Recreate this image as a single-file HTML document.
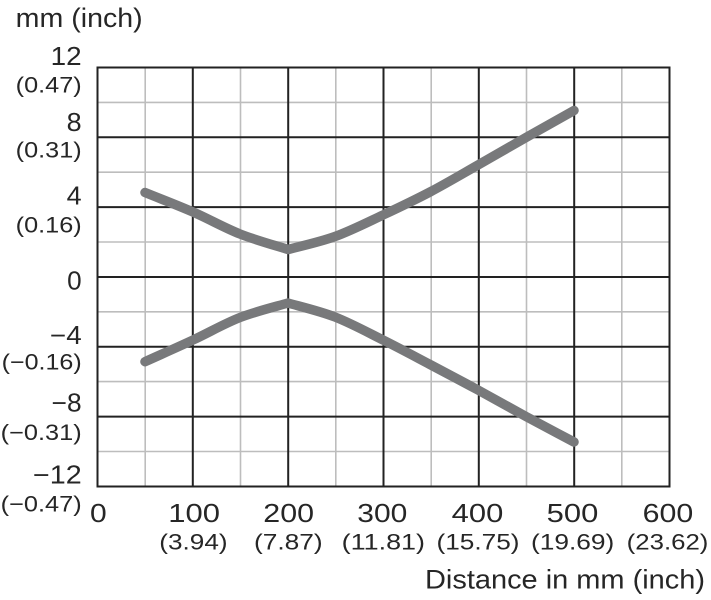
<!DOCTYPE html>
<html><head><meta charset="utf-8"><style>
html,body{margin:0;padding:0;background:#fff;}
svg{display:block;}
text{font-family:"Liberation Sans",Arial,sans-serif;fill:#262626;}
</style></head><body>
<svg width="711" height="600" viewBox="0 0 711 600" xmlns="http://www.w3.org/2000/svg">
<rect width="711" height="600" fill="#fff"/>
<!-- light grid -->
<g stroke="#bdbdbd" stroke-width="1.6">
<line x1="145.2" y1="67.5" x2="145.2" y2="486.5"/>
<line x1="240.5" y1="67.5" x2="240.5" y2="486.5"/>
<line x1="335.8" y1="67.5" x2="335.8" y2="486.5"/>
<line x1="431.2" y1="67.5" x2="431.2" y2="486.5"/>
<line x1="526.5" y1="67.5" x2="526.5" y2="486.5"/>
<line x1="621.8" y1="67.5" x2="621.8" y2="486.5"/>
<line x1="97.5" y1="102.4" x2="669.5" y2="102.4"/>
<line x1="97.5" y1="172.2" x2="669.5" y2="172.2"/>
<line x1="97.5" y1="242" x2="669.5" y2="242"/>
<line x1="97.5" y1="311.8" x2="669.5" y2="311.8"/>
<line x1="97.5" y1="381.6" x2="669.5" y2="381.6"/>
<line x1="97.5" y1="451.5" x2="669.5" y2="451.5"/>
</g>
<!-- dark grid -->
<g stroke="#222" stroke-width="2">
<line x1="192.8" y1="67.5" x2="192.8" y2="486.5"/>
<line x1="288.2" y1="67.5" x2="288.2" y2="486.5"/>
<line x1="383.5" y1="67.5" x2="383.5" y2="486.5"/>
<line x1="478.8" y1="67.5" x2="478.8" y2="486.5"/>
<line x1="574.2" y1="67.5" x2="574.2" y2="486.5"/>
<line x1="97.5" y1="137.3" x2="669.5" y2="137.3"/>
<line x1="97.5" y1="207.1" x2="669.5" y2="207.1"/>
<line x1="97.5" y1="277" x2="669.5" y2="277"/>
<line x1="97.5" y1="346.8" x2="669.5" y2="346.8"/>
<line x1="97.5" y1="416.6" x2="669.5" y2="416.6"/>
<rect x="97.5" y="67.5" width="572" height="419" fill="none"/>
</g>
<!-- curves -->
<g fill="none" stroke="#78797b" stroke-width="9.5" stroke-linecap="round" stroke-linejoin="round">
<path d="M145,192.5 C161,199 177.17,205.08 193,212 C208.83,218.92 224.17,227.75 240,234 C255.83,240.25 278.4,246.4 288,249.5 C297.4,246.9 319.17,242.25 335,236.5 C350.83,230.75 367.17,222.42 383,215 C398.83,207.58 414.17,200.33 430,192 C445.83,183.67 462,174.08 478,165 C494,155.92 510,146.58 526,137.5 C542,128.42 558,119.5 574,110.5"/>
<path d="M145,361.7 C161,354.47 177.17,347.37 193,340 C208.83,332.63 224.17,323.67 240,317.5 C255.83,311.33 278.4,305.9 288,303 C297.4,305.8 319.17,310.83 335,317 C350.83,323.17 367.17,332.08 383,340 C398.83,347.92 414.17,356.17 430,364.5 C445.83,372.83 462,381.33 478,390 C494,398.67 510,407.83 526,416.5 C542,425.17 558,433.5 574,442"/>
</g>
<!-- titles -->
<text x="15.7" y="27" font-size="27" textLength="127" lengthAdjust="spacingAndGlyphs">mm (inch)</text>
<text x="425" y="588.3" font-size="27" textLength="280" lengthAdjust="spacingAndGlyphs">Distance in mm (inch)</text>
<!-- y labels -->
<g font-size="25.5">
<text x="50.7" y="65" textLength="31" lengthAdjust="spacingAndGlyphs">12</text>
<text x="66.7" y="131" textLength="15" lengthAdjust="spacingAndGlyphs">8</text>
<text x="66.7" y="204.3" textLength="15" lengthAdjust="spacingAndGlyphs">4</text>
<text x="67.2" y="289.3" textLength="14.5" lengthAdjust="spacingAndGlyphs">0</text>
<text x="50" y="344" textLength="31.7" lengthAdjust="spacingAndGlyphs">−4</text>
<text x="51.7" y="411.7" textLength="30" lengthAdjust="spacingAndGlyphs">−8</text>
<text x="33" y="483.3" textLength="48.7" lengthAdjust="spacingAndGlyphs">−12</text>
</g>
<g font-size="22">
<text x="15.7" y="92.7" textLength="66" lengthAdjust="spacingAndGlyphs">(0.47)</text>
<text x="15.7" y="157.3" textLength="66" lengthAdjust="spacingAndGlyphs">(0.31)</text>
<text x="15.7" y="232.3" textLength="66" lengthAdjust="spacingAndGlyphs">(0.16)</text>
<text x="1.7" y="369.5" textLength="80" lengthAdjust="spacingAndGlyphs">(−0.16)</text>
<text x="0.7" y="440" textLength="81" lengthAdjust="spacingAndGlyphs">(−0.31)</text>
<text x="0.7" y="511.7" textLength="81" lengthAdjust="spacingAndGlyphs">(−0.47)</text>
</g>
<!-- x labels -->
<g font-size="26">
<text x="90" y="522" textLength="16.7" lengthAdjust="spacingAndGlyphs">0</text>
<text x="168.3" y="522" textLength="51.7" lengthAdjust="spacingAndGlyphs">100</text>
<text x="263.3" y="522" textLength="50.7" lengthAdjust="spacingAndGlyphs">200</text>
<text x="357.3" y="522" textLength="50" lengthAdjust="spacingAndGlyphs">300</text>
<text x="451.7" y="522" textLength="51.6" lengthAdjust="spacingAndGlyphs">400</text>
<text x="546.7" y="522" textLength="51.6" lengthAdjust="spacingAndGlyphs">500</text>
<text x="642.7" y="522" textLength="50.6" lengthAdjust="spacingAndGlyphs">600</text>
</g>
<g font-size="22">
<text x="159.3" y="549.5" textLength="68.3" lengthAdjust="spacingAndGlyphs">(3.94)</text>
<text x="254" y="549.5" textLength="68.7" lengthAdjust="spacingAndGlyphs">(7.87)</text>
<text x="341.7" y="549.5" textLength="83.3" lengthAdjust="spacingAndGlyphs">(11.81)</text>
<text x="436.5" y="549.5" textLength="83" lengthAdjust="spacingAndGlyphs">(15.75)</text>
<text x="531" y="549.5" textLength="83.3" lengthAdjust="spacingAndGlyphs">(19.69)</text>
<text x="626.7" y="549.5" textLength="81.7" lengthAdjust="spacingAndGlyphs">(23.62)</text>
</g>
</svg>
</body></html>
